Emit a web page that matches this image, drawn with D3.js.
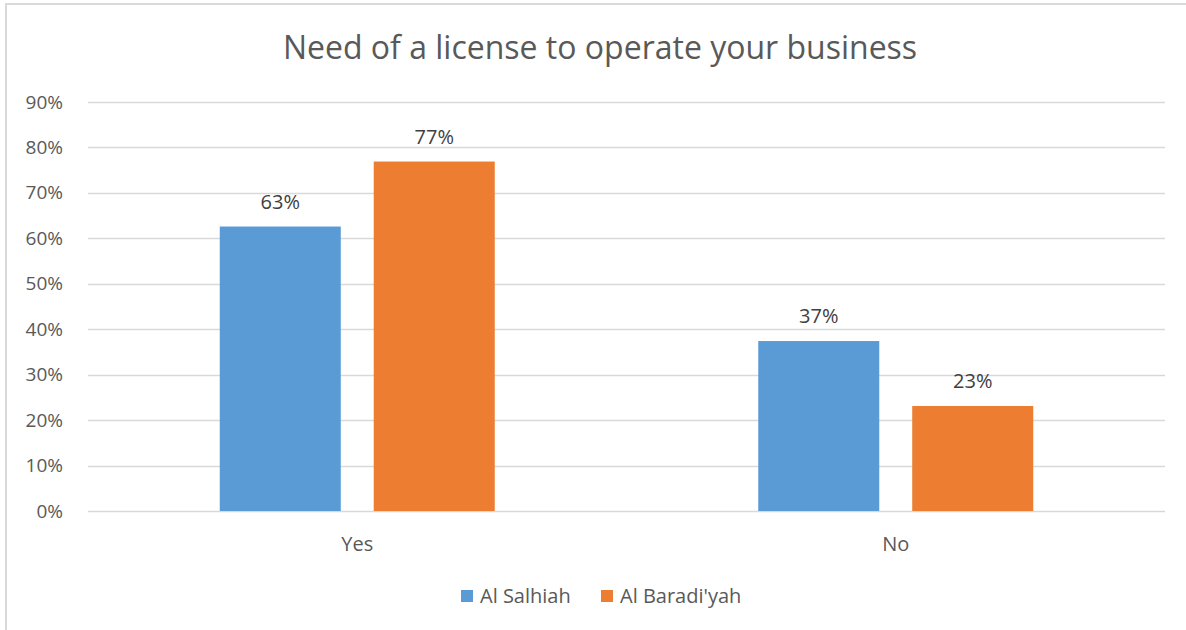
<!DOCTYPE html>
<meta charset="utf-8">
<script src="https://d3js.org/d3.v7.min.js"></script>
<style>
body { margin: 0; background: #fff; }
text { font-family: "Open Sans", "Noto Sans", sans-serif; }
</style>
<div id="chart"></div>
<script>

// data
var categories = ["Yes", "No"];
var seriesNames = ["Al Salhiah", "Al Baradi'yah"];
var salhiah = [0.626, 0.374];
var baradiyah = [0.769, 0.231];
var yTicks = [0, 0.1, 0.2, 0.3, 0.4, 0.5, 0.6, 0.7, 0.8, 0.9];
var colors = ["#5B9BD5", "#ED7D31"];

var W = 1186, H = 630;
var margin = {top: 102, right: 21, bottom: 119, left: 88},
    width = W - margin.left - margin.right,
    height = H - margin.top - margin.bottom;

var svg = d3.select("#chart").append("svg")
    .attr("width", W)
    .attr("height", H);

// outer frame (only left and top edges show in the picture)
svg.append("path")
    .attr("d", "M6," + H + "V4H" + W)
    .attr("fill", "none")
    .attr("stroke", "#d9d9d9")
    .attr("stroke-width", 2);

svg.append("text")
    .attr("x", 600)
    .attr("y", 59)
    .attr("text-anchor", "middle")
    .attr("fill", "#595959")
    .style("font-size", "32px")
    .text("Need of a license to operate your business");

var g = svg.append("g")
    .attr("transform", "translate(" + margin.left + "," + margin.top + ")");

var y = d3.scaleLinear().domain([0, 0.9]).range([height, 0]);

var x0 = d3.scaleBand().domain(categories).range([0, width]);
var outer = 131.75;
var x1 = d3.scaleBand().domain(seriesNames)
    .range([outer, x0.bandwidth() - outer])
    .paddingInner(0.214);

// gridlines
g.append("g")
    .selectAll("line")
    .data(yTicks)
    .enter().append("line")
      .attr("x1", 0)
      .attr("x2", width)
      .attr("y1", function(d) { return Math.round(y(d)) + 0.5; })
      .attr("y2", function(d) { return Math.round(y(d)) + 0.5; })
      .attr("stroke", "#d9d9d9")
      .attr("stroke-width", 1.5);

// y axis labels
var yAxis = g.append("g")
    .call(d3.axisLeft(y).tickValues(yTicks).tickFormat(d3.format(".0%")).tickSize(0).tickPadding(25));
yAxis.select(".domain").remove();
yAxis.selectAll("text")
    .attr("fill", "#595959")
    .style("font-size", "19px")
    .style("font-family", "'Open Sans', sans-serif");

// x axis labels
var xAxis = g.append("g")
    .attr("transform", "translate(0," + height + ")")
    .call(d3.axisBottom(x0).tickSize(0).tickPadding(26));
xAxis.select(".domain").remove();
xAxis.selectAll("text")
    .attr("fill", "#595959")
    .style("font-size", "20px")
    .style("font-family", "'Open Sans', sans-serif");

var rows = categories.map(function(c, i) {
  return {cat: c, vals: [salhiah[i], baradiyah[i]]};
});

var groups = g.selectAll(".cat")
    .data(rows)
    .enter().append("g")
      .attr("transform", function(d) { return "translate(" + x0(d.cat) + ",0)"; });

var bars = groups.selectAll("g.bar")
    .data(function(d) {
      return d.vals.map(function(v, j) { return {name: seriesNames[j], v: v, j: j}; });
    })
    .enter().append("g").attr("class", "bar");

bars.append("rect")
    .attr("x", function(d) { return x1(d.name); })
    .attr("y", function(d) { return y(d.v); })
    .attr("width", x1.bandwidth())
    .attr("height", function(d) { return height - y(d.v); })
    .attr("fill", function(d) { return colors[d.j]; });

bars.append("text")
    .attr("x", function(d) { return x1(d.name) + x1.bandwidth() / 2; })
    .attr("y", function(d) { return y(d.v) - 18; })
    .attr("text-anchor", "middle")
    .attr("fill", "#404040")
    .style("font-size", "20px")
    .text(function(d) { return d3.format(".0%")(d.v); });

// legend
var legendX = [461, 601];
var legend = svg.append("g")
    .selectAll("g")
    .data(seriesNames)
    .enter().append("g")
      .attr("transform", function(d, i) { return "translate(" + legendX[i] + ",590)"; });
legend.append("rect")
    .attr("width", 12)
    .attr("height", 12)
    .attr("fill", function(d, i) { return colors[i]; });
legend.append("text")
    .attr("x", 19)
    .attr("y", 13)
    .attr("fill", "#595959")
    .style("font-size", "20px")
    .text(function(d) { return d; });

</script>
